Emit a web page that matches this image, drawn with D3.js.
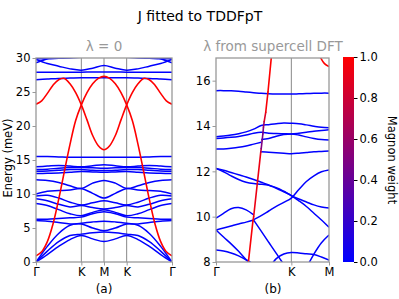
<!DOCTYPE html>
<html>
<head>
<meta charset="utf-8">
<script src="https://cdn.jsdelivr.net/npm/d3@7"></script>
<style>
  body { margin: 0; background: #fff; }
  text { font-family: "DejaVu Sans", sans-serif; }
</style>
</head>
<body>
<div id="chart"></div>
<script>
var width = 399, height = 299;

// ---- panel (a): path G-K-M-K-G, lambda = 0
var kA = [0, 0.25, 0.5, 0.75, 1, 1.25, 1.5, 1.75, 2, 2.25, 2.5, 2.75, 3];
var kTicksA = [0, 1, 1.5, 2, 3];
var kLabelsA = ["Γ", "K", "M", "K", "Γ"];
var yTicksA = [0, 5, 10, 15, 20, 25, 30];

var phononA = [
  [0, 1.1, 2.3, 3.3, 3.9, 3.4, 3.0, 3.4, 3.9, 3.3, 2.3, 1.1, 0],
  [0, 1.6, 3.0, 3.9, 4.1, 4.3, 4.4, 4.3, 4.1, 3.9, 3.0, 1.6, 0],
  [0, 2.3, 4.2, 5.4, 5.6, 5.0, 4.6, 5.0, 5.6, 5.4, 4.2, 2.3, 0],
  [6.1, 6.0, 5.8, 5.6, 5.7, 5.9, 6.0, 5.9, 5.7, 5.6, 5.8, 6.0, 6.1],
  [6.3, 6.3, 6.4, 6.5, 6.6, 7.1, 7.4, 7.1, 6.6, 6.5, 6.4, 6.3, 6.3],
  [8.6, 8.3, 7.7, 7.1, 6.8, 7.3, 7.7, 7.3, 6.8, 7.1, 7.7, 8.3, 8.6],
  [9.3, 9.0, 8.5, 8.1, 8.3, 8.0, 7.8, 8.0, 8.3, 8.1, 8.5, 9.0, 9.3],
  [9.7, 9.8, 9.4, 8.8, 8.4, 8.7, 9.0, 8.7, 8.4, 8.8, 9.4, 9.8, 9.7],
  [10.0, 10.4, 10.5, 10.6, 10.8, 10.1, 9.4, 10.1, 10.8, 10.6, 10.5, 10.4, 10.0],
  [12.1, 12.0, 11.7, 11.2, 10.8, 11.6, 12.0, 11.6, 10.8, 11.2, 11.7, 12.0, 12.1],
  [13.0, 13.05, 13.1, 13.2, 13.3, 13.25, 13.2, 13.25, 13.3, 13.2, 13.1, 13.05, 13.0],
  [13.35, 13.4, 13.5, 13.6, 13.6, 13.5, 13.45, 13.5, 13.6, 13.6, 13.5, 13.4, 13.35],
  [13.6, 13.65, 13.8, 13.9, 13.9, 13.85, 13.8, 13.85, 13.9, 13.9, 13.8, 13.65, 13.6],
  [14.0, 14.1, 14.2, 14.1, 14.0, 14.15, 14.3, 14.15, 14.0, 14.1, 14.2, 14.1, 14.0],
  [15.5, 15.5, 15.45, 15.4, 15.4, 15.4, 15.4, 15.4, 15.4, 15.4, 15.45, 15.5, 15.5],
  [26.8, 26.9, 27.0, 27.05, 27.1, 27.1, 27.1, 27.1, 27.1, 27.05, 27.0, 26.9, 26.8],
  [27.9, 27.9, 27.9, 27.9, 27.9, 27.95, 27.95, 27.95, 27.9, 27.9, 27.9, 27.9, 27.9],
  [29.8, 29.2, 28.8, 28.4, 28.2, 28.5, 28.9, 28.5, 28.2, 28.4, 28.8, 29.2, 29.8],
  [29.3, 29.9, 30.4, 30.6, 30.6, 30.5, 30.4, 30.5, 30.6, 30.6, 30.4, 29.9, 29.3],
  [29.9, 29.9, 29.95, 30.0, 30.1, 30.2, 30.2, 30.2, 30.1, 30.0, 29.95, 29.9, 29.9]
];

var kMagA = [0, 0.125, 0.25, 0.375, 0.5, 0.625, 0.75, 0.875, 1, 1.125, 1.25, 1.375, 1.5,
             1.625, 1.75, 1.875, 2, 2.125, 2.25, 2.375, 2.5, 2.625, 2.75, 2.875, 3];
var magnonA1 = [0.9, 1.5, 3.0, 5.6, 9.2, 13.3, 17.3, 20.8, 23.1, 24.9, 26.2, 27.0, 27.3,
                27.0, 26.2, 24.9, 23.1, 20.8, 17.3, 13.3, 9.2, 5.6, 3.0, 1.5, 0.9];
var magnonA2 = [23.2, 23.7, 24.8, 26.0, 26.8, 27.0, 26.2, 24.9, 23.1, 20.9, 18.6, 17.1, 16.5,
                17.1, 18.6, 20.9, 23.1, 24.9, 26.2, 27.0, 26.8, 26.0, 24.8, 23.7, 23.2];

// ---- panel (b): path G-K-M, lambda from supercell DFT
var kB = [0, 0.1, 0.2, 0.3, 0.4, 0.5, 0.6, 0.7, 0.8, 0.9, 1.0, 1.1, 1.2, 1.3, 1.4, 1.5];
var kTicksB = [0, 1, 1.5];
var kLabelsB = ["Γ", "K", "M"];
var yTicksB = [8, 10, 12, 14, 16];
var _ = null;

var phononB = [
  [15.56, 15.56, 15.55, 15.53, 15.5, 15.47, 15.44, 15.42, 15.41, 15.41, 15.41, 15.42, 15.43, 15.44, 15.45, 15.45],
  [13.53, 13.56, 13.6, 13.66, 13.74, 13.86, 14.02, 14.06, 14.1, 14.13, 14.12, 14.1, 14.05, 13.99, 13.94, 13.92],
  [13.45, 13.47, 13.5, 13.54, 13.6, 13.68, 13.72, 13.68, 13.67, 13.66, 13.65, 13.68, 13.72, 13.77, 13.8, 13.83],
  [_, _, _, _, _, _, 13.4, 13.45, 13.55, 13.62, 13.65, 13.6, 13.52, 13.45, 13.4, 13.38],
  [12.98, 12.99, 13.02, 13.06, 13.12, 13.2, 13.28, _, _, _, _, _, _, _, _, _],
  [_, _, _, _, _, _, 12.86, 12.84, 12.82, 12.8, 12.78, 12.8, 12.83, 12.86, 12.88, 12.9],
  [12.13, 12.05, 11.95, 11.85, 11.75, 11.64, 11.52, 11.4, 11.25, 11.1, 10.93, 10.7, 10.45, 10.15, 9.85, 9.53],
  [12.13, 11.98, 11.8, 11.64, 11.52, 11.46, 11.43, 11.38, 11.28, 11.12, 10.93, 10.78, 10.65, 10.52, 10.43, 10.38],
  [9.93, 10.15, 10.35, 10.4, 10.3, 10.08, _, _, _, _, _, _, _, _, _, _],
  [_, _, _, _, _, 9.87, 10.05, 10.25, 10.45, 10.63, 10.82, 11.2, 11.55, 11.8, 11.98, 12.06],
  [9.41, 9.5, 9.59, 9.68, 9.76, 9.85, _, _, _, _, _, _, _, _, _, _],
  [_, _, _, _, _, 9.85, 9.36, 8.87, 8.38, 7.9, 7.5, _, _, _, _, _],
  [9.41, 9.1, 8.8, 8.47, 8.1, 7.75, _, _, _, _, _, _, _, _, _, _],
  [8.53, 8.49, 8.4, 8.27, 8.1, 7.9, _, _, _, _, _, _, _, _, _, _],
  [_, _, _, _, _, _, 7.3, 7.7, 8.15, 8.35, 8.42, 8.4, 8.36, 8.33, 8.22, 8.08],
  [_, _, _, _, _, _, _, _, _, _, _, 7.2, 7.75, 8.35, 8.85, 9.19]
];

var kMagB = [0.43, 0.49, 0.5, 0.594, 0.6, 0.612, 0.622, 0.63, 0.64, 0.66, 0.69, 0.735];
var eMagB = [8.0, 9.8, 10.0, 12.85, 13.0, 13.35, 13.65, 13.95, 14.2, 14.6, 15.5, 17.05];
var wMagB = [1, 0.95, 0.95, 0.9, 0.55, 0.45, 0.45, 0.5, 0.75, 0.95, 1, 1];
var kMagB2 = [1.35, 1.39, 1.44, 1.5];
var eMagB2 = [17.3, 17.0, 16.75, 16.62];

var cbTicks = [0, 0.2, 0.4, 0.6, 0.8, 1.0];

// ---- drawing
var svg = d3.select("#chart").append("svg")
  .attr("width", width).attr("height", height);

var weightColor = d3.interpolateRgb("#0000ff", "#ff0000");
var frameColor = "#999";
var tickFont = "11.5px";

var xa = d3.scaleLinear().domain([0, 3]).range([36, 172]),
    ya = d3.scaleLinear().domain([0, 30]).range([262, 58]);
var xb = d3.scaleLinear().domain([0, 1.5]).range([216, 329]),
    yb = d3.scaleLinear().domain([8, 17]).range([262, 58]);

function bandLine(x, y, ks) {
  return d3.line()
    .defined(function(d) { return d != null; })
    .x(function(d, i) { return x(ks[i]); })
    .y(function(d) { return y(d); })
    .curve(d3.curveCatmullRom.alpha(0.5));
}

function panel(id, x, y, kTicks, kLabels, yTicks) {
  var x0 = x.range()[0], x1 = x.range()[1], y0 = y.range()[1], y1 = y.range()[0];
  svg.append("clipPath").attr("id", id)
    .append("rect").attr("x", x0).attr("y", y0).attr("width", x1 - x0).attr("height", y1 - y0);

  // high symmetry lines
  svg.append("g").selectAll("line")
    .data(kTicks.slice(1, -1))
    .enter().append("line")
    .attr("x1", function(d) { return x(d); }).attr("x2", function(d) { return x(d); })
    .attr("y1", y0).attr("y2", y1)
    .attr("stroke", "#888").attr("stroke-width", 1);

  var g = svg.append("g").attr("clip-path", "url(#" + id + ")");

  var ax = svg.append("g")
    .attr("transform", "translate(0," + y1 + ")")
    .call(d3.axisBottom(x).tickValues(kTicks)
      .tickFormat(function(d, i) { return kLabels[i]; })
      .tickSize(3.5).tickPadding(2));
  var ay = svg.append("g")
    .attr("transform", "translate(" + x0 + ",0)")
    .call(d3.axisLeft(y).tickValues(yTicks).tickSize(3.5).tickPadding(2));
  [ax, ay].forEach(function(a) {
    a.select(".domain").remove();
    a.selectAll(".tick line").attr("stroke", frameColor);
    a.selectAll(".tick text").attr("fill", "#000")
      .style("font-size", tickFont).style("font-family", "DejaVu Sans, sans-serif");
  });
  return g;
}

// panel (a)
var ga = panel("clipA", xa, ya, kTicksA, kLabelsA, yTicksA);
ga.selectAll(".band")
  .data(phononA).enter().append("path")
  .attr("d", bandLine(xa, ya, kA))
  .attr("fill", "none").attr("stroke", "#0000ff").attr("stroke-width", 1.5);
ga.selectAll(".magnon")
  .data([magnonA1, magnonA2]).enter().append("path")
  .attr("d", bandLine(xa, ya, kMagA))
  .attr("fill", "none").attr("stroke", "#ff0000").attr("stroke-width", 1.6);

// panel (b)
var gb = panel("clipB", xb, yb, kTicksB, kLabelsB, yTicksB);
gb.selectAll(".band")
  .data(phononB).enter().append("path")
  .attr("d", bandLine(xb, yb, kB))
  .attr("fill", "none").attr("stroke", "#0000ff").attr("stroke-width", 1.5);

var segs = d3.range(kMagB.length - 1);
gb.selectAll(".mseg")
  .data(segs).enter().append("line")
  .attr("x1", function(i) { return xb(kMagB[i]); })
  .attr("y1", function(i) { return yb(eMagB[i]); })
  .attr("x2", function(i) { return xb(kMagB[i + 1]); })
  .attr("y2", function(i) { return yb(eMagB[i + 1]); })
  .attr("stroke", function(i) { return weightColor((wMagB[i] + wMagB[i + 1]) / 2); })
  .attr("stroke-width", 1.6).attr("stroke-linecap", "round");
gb.append("path")
  .datum(eMagB2)
  .attr("d", bandLine(xb, yb, kMagB2))
  .attr("fill", "none").attr("stroke", "#ff0000").attr("stroke-width", 1.6);

// frames
[[xa, ya], [xb, yb]].forEach(function(p) {
  var r0 = p[0].range(), r1 = p[1].range();
  svg.append("rect")
    .attr("x", r0[0]).attr("y", r1[1])
    .attr("width", r0[1] - r0[0]).attr("height", r1[0] - r1[1])
    .attr("fill", "none").attr("stroke", frameColor).attr("stroke-width", 1.3);
});

// colorbar
var cb = d3.scaleLinear().domain([0, 1]).range([262, 57]);
var grad = svg.append("defs").append("linearGradient")
  .attr("id", "cbGrad").attr("x1", 0).attr("y1", 1).attr("x2", 0).attr("y2", 0);
d3.range(0, 1.0001, 0.1).forEach(function(t) {
  grad.append("stop").attr("offset", t).attr("stop-color", weightColor(t));
});
svg.append("rect")
  .attr("x", 343).attr("y", cb(1)).attr("width", 11).attr("height", cb(0) - cb(1))
  .attr("fill", "url(#cbGrad)");
var acb = svg.append("g")
  .attr("transform", "translate(354,0)")
  .call(d3.axisRight(cb).tickValues(cbTicks).tickFormat(d3.format(".1f"))
    .tickSize(3.5).tickPadding(2));
acb.select(".domain").remove();
acb.selectAll(".tick line").attr("stroke", "#000");
acb.selectAll(".tick text").attr("fill", "#000")
  .style("font-size", tickFont).style("font-family", "DejaVu Sans, sans-serif");

// texts
svg.append("text").attr("x", 200).attr("y", 21).attr("text-anchor", "middle")
  .style("font-size", "14px").text("J fitted to TDDFpT");
svg.append("text").attr("x", 104).attr("y", 51).attr("text-anchor", "middle")
  .attr("fill", "#999").style("font-size", "13.5px").text("λ = 0");
svg.append("text").attr("x", 273).attr("y", 51).attr("text-anchor", "middle")
  .attr("fill", "#999").style("font-size", "13.5px").text("λ from supercell DFT");
svg.append("text").attr("x", 104).attr("y", 293).attr("text-anchor", "middle")
  .style("font-size", "12px").text("(a)");
svg.append("text").attr("x", 273).attr("y", 293).attr("text-anchor", "middle")
  .style("font-size", "12px").text("(b)");
svg.append("text").attr("transform", "translate(12,158) rotate(-90)")
  .attr("text-anchor", "middle").style("font-size", "11.5px").text("Energy (meV)");
svg.append("text").attr("transform", "translate(388,160) rotate(90)")
  .attr("text-anchor", "middle").style("font-size", "11.5px").text("Magnon weight");
</script>
</body>
</html>
